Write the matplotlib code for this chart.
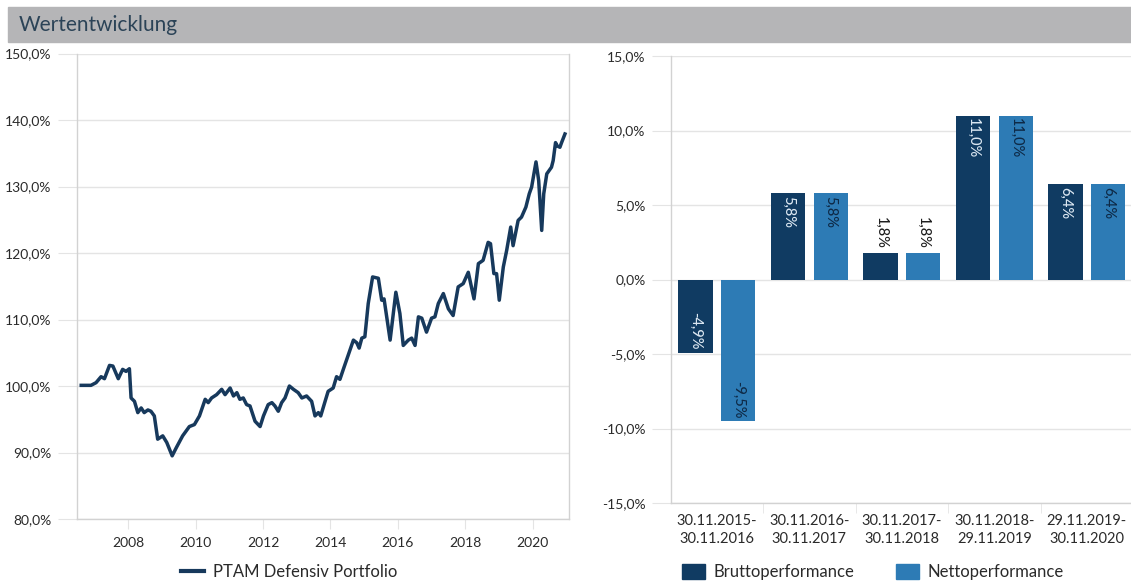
import numpy as np
import matplotlib.pyplot as plt
from matplotlib.patches import Rectangle, Patch
from matplotlib.lines import Line2D

plt.rcParams['font.family'] = ['Lato', 'DejaVu Sans']

# Wertentwicklung (decimal years, index in %)
years = [2006.60, 2006.89, 2007.04, 2007.19, 2007.29, 2007.44, 2007.54, 2007.70,
         2007.83, 2007.93, 2008.03, 2008.08, 2008.18, 2008.28, 2008.38, 2008.47,
         2008.58, 2008.67, 2008.77, 2008.87, 2009.02, 2009.14, 2009.30, 2009.42,
         2009.61, 2009.81, 2009.96, 2010.11, 2010.28, 2010.37, 2010.47, 2010.62,
         2010.77, 2010.87, 2011.02, 2011.12, 2011.22, 2011.31, 2011.41, 2011.51,
         2011.61, 2011.76, 2011.91, 2012.01, 2012.15, 2012.26, 2012.35, 2012.45,
         2012.55, 2012.65, 2012.78, 2012.90, 2013.04, 2013.15, 2013.29, 2013.44,
         2013.54, 2013.64, 2013.71, 2013.84, 2013.93, 2014.08, 2014.18, 2014.28,
         2014.38, 2014.53, 2014.68, 2014.78, 2014.85, 2014.93, 2015.02, 2015.12,
         2015.25, 2015.42, 2015.52, 2015.59, 2015.77, 2015.94, 2016.06, 2016.16,
         2016.31, 2016.41, 2016.51, 2016.61, 2016.71, 2016.85, 2017.00, 2017.10,
         2017.20, 2017.35, 2017.50, 2017.64, 2017.79, 2017.94, 2018.09, 2018.26,
         2018.39, 2018.53, 2018.68, 2018.75, 2018.85, 2018.93, 2019.01, 2019.13,
         2019.23, 2019.35, 2019.42, 2019.57, 2019.67, 2019.80, 2019.90, 2019.97,
         2020.10, 2020.18, 2020.27, 2020.33, 2020.42, 2020.56, 2020.61, 2020.68,
         2020.73, 2020.81, 2020.86, 2020.96]
portfolio = [100.1, 100.1, 100.5, 101.4, 101.1, 103.1, 103.0, 101.1,
             102.5, 102.2, 102.6, 98.2, 97.7, 96.0, 96.7, 96.0,
             96.4, 96.2, 95.5, 92.0, 92.5, 91.5, 89.5, 90.7,
             92.5, 93.9, 94.2, 95.5, 98.0, 97.5, 98.2, 98.7,
             99.5, 98.7, 99.7, 98.5, 99.0, 98.0, 98.2, 97.2,
             97.0, 94.7, 93.9, 95.5, 97.2, 97.5, 97.0, 96.2,
             97.5, 98.2, 100.0, 99.5, 99.0, 98.2, 98.5, 97.7,
             95.5, 96.0, 95.5, 97.7, 99.2, 99.7, 101.4, 101.0,
             102.5, 104.7, 106.9, 106.5, 105.7, 107.2, 107.4, 112.4,
             116.4, 116.2, 112.9, 113.1, 106.9, 114.1, 110.9, 106.1,
             106.9, 107.2, 106.1, 110.4, 110.2, 108.1, 110.2, 110.4,
             112.4, 113.9, 111.6, 110.6, 114.9, 115.4, 117.1, 113.1,
             118.4, 118.9, 121.6, 121.4, 116.9, 116.9, 112.9, 117.9,
             120.4, 123.9, 121.1, 124.9, 125.4, 126.9, 128.9, 129.9,
             133.7, 130.9, 123.4, 128.9, 131.9, 132.9, 133.9, 136.6,
             136.1, 135.9, 136.6, 137.9]

# Jahresperformance
periods = ['30.11.2015-\n30.11.2016', '30.11.2016-\n30.11.2017', '30.11.2017-\n30.11.2018',
           '30.11.2018-\n29.11.2019', '29.11.2019-\n30.11.2020']
brutto = [-4.9, 5.8, 1.8, 11.0, 6.4]
netto = [-9.5, 5.8, 1.8, 11.0, 6.4]

W, H = 1131, 582
navy = '#17395c'
dark = '#103b62'
light = '#2d7bb5'
grid_c = '#e4e4e4'
spine_c = '#d2d2d2'
text_c = '#2a2a2a'

fig = plt.figure(figsize=(W / 100, H / 100), dpi=100)

# header band
fig.patches.append(Rectangle((8 / W, 1 - 42 / H), 1 - 8 / W, 35 / H,
                             transform=fig.transFigure, color='#b5b5b7', zorder=0))
fig.text(19 / W, 1 - 25 / H, 'Wertentwicklung', fontsize=15, color='#2b4357',
         va='center', ha='left')


def style_axes(ax):
    ax.spines['top'].set_visible(False)
    for s in ['left', 'right', 'bottom']:
        ax.spines[s].set_color(spine_c)
        ax.spines[s].set_linewidth(1)
    ax.grid(axis='y', color=grid_c, lw=1)
    ax.set_axisbelow(True)
    ax.tick_params(axis='y', length=14, color=grid_c, labelsize=10, labelcolor=text_c, pad=4)
    ax.tick_params(axis='x', length=7, color=grid_c, labelsize=10, labelcolor=text_c)


def pct(v, _=None):
    return f'{v:.1f}%'.replace('.', ',')


# left: line chart
ax1 = fig.add_axes([76.5 / W, 1 - 519 / H, (569 - 76.5) / W, (519 - 53.5) / H])
style_axes(ax1)
ax1.plot(years, portfolio, color=navy, lw=2.5, solid_joinstyle='round')
ax1.set_xlim(2006.46, 2021.08)
ax1.set_ylim(80, 150)
ax1.set_yticks(np.arange(80, 151, 10))
ax1.yaxis.set_major_formatter(plt.FuncFormatter(pct))
ax1.set_xticks(np.arange(2008, 2021, 2))
ax1.tick_params(axis='x', pad=6)

fig.legend(handles=[Line2D([], [], color=navy, lw=3)], labels=['PTAM Defensiv Portfolio'],
           loc='center', bbox_to_anchor=(289 / W, 1 - 572 / H), frameon=False,
           fontsize=12, handlelength=1.4, handletextpad=0.5, labelcolor=text_c)

# right: bar chart
ax2 = fig.add_axes([670.6 / W, 1 - 503 / H, (W - 670.6) / W, (503 - 56) / H])
style_axes(ax2)
ax2.spines['right'].set_visible(False)
x = np.arange(len(periods))
off, bw = 0.23, 0.37
b1 = ax2.bar(x - off, brutto, bw, color=dark)
b2 = ax2.bar(x + off, netto, bw, color=light)
ax2.set_xlim(-0.5, -0.5 + (W - 670.6) / 92.5)
ax2.set_ylim(-15, 15)
ax2.set_yticks(np.arange(-15, 16, 5))
ax2.yaxis.set_major_formatter(plt.FuncFormatter(pct))
ax2.set_xticks(x)
ax2.set_xticklabels(periods, linespacing=1.35, fontsize=10.5)
ax2.tick_params(axis='x', which='major', length=0, pad=8)
ax2.set_xticks(np.arange(0.5, len(periods) - 0.5), minor=True)
ax2.tick_params(axis='x', which='minor', length=7, color=grid_c)

for bars, vals, inner_c in [(b1, brutto, '#dbe7f2'), (b2, netto, '#0e2a47')]:
    for rect, v in zip(bars, vals):
        cx = rect.get_x() + rect.get_width() / 2
        label = pct(v)
        kw = dict(textcoords='offset points', rotation=270, ha='center',
                  fontsize=10.5, fontweight='medium')
        if v < 0:
            ax2.annotate(label, (cx, v), xytext=(0, 2), va='bottom', color=inner_c, **kw)
        elif v < 3:
            ax2.annotate(label, (cx, v), xytext=(0, 3), va='bottom', color='#1e1e1e', **kw)
        else:
            ax2.annotate(label, (cx, v), xytext=(0, -2), va='top', color=inner_c, **kw)

fig.legend(handles=[Patch(color=dark), Patch(color=light)],
           labels=['Bruttoperformance', 'Nettoperformance'],
           loc='center', ncol=2, bbox_to_anchor=(873 / W, 1 - 572 / H), frameon=False,
           fontsize=12, handlelength=1.4, handleheight=1.0, handletextpad=0.5,
           columnspacing=2.5, labelcolor=text_c)

fig.savefig('out.png', dpi=100)
